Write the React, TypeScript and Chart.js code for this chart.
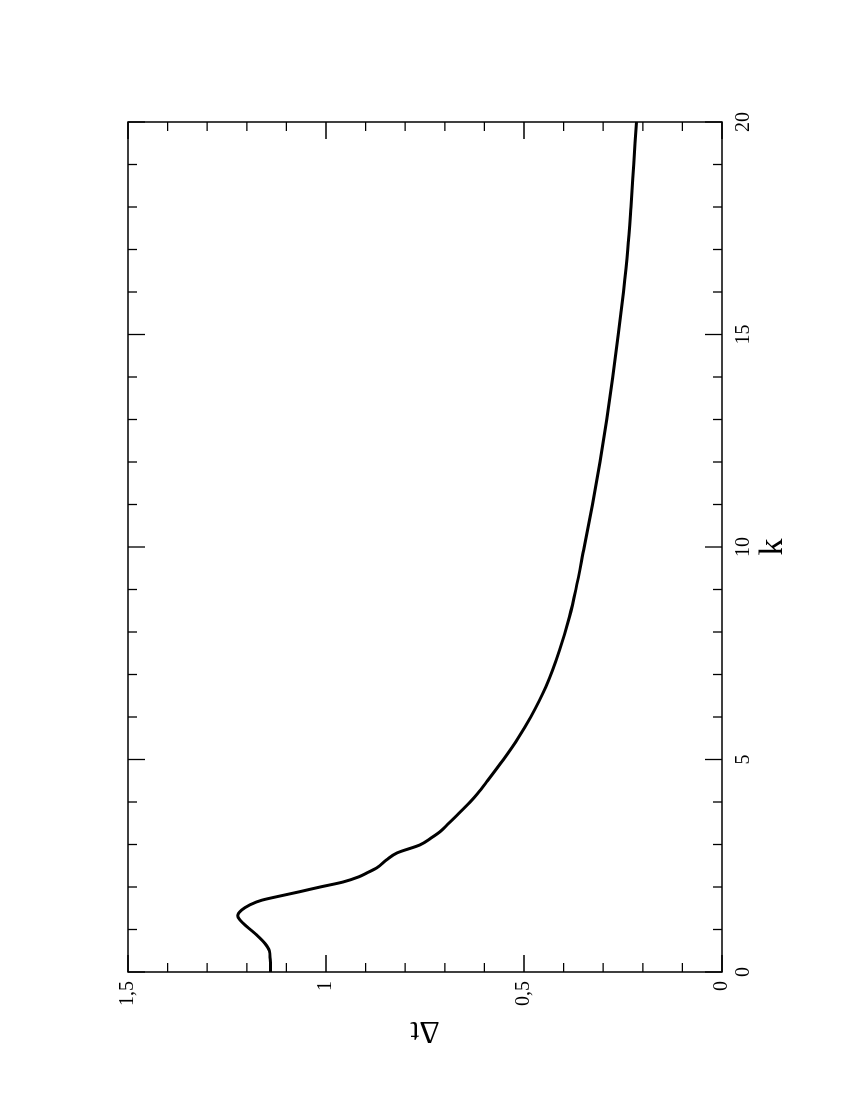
import React, { useEffect, useRef } from "react";
import { Chart, registerables } from "chart.js";

Chart.register(...registerables);

// Data (k, Δt)
const K_VALUES = [
  0, 0.3, 0.5, 0.67, 0.87, 1.07, 1.22, 1.32, 1.46, 1.58, 1.69, 1.77, 1.89, 2.0,
  2.12, 2.24, 2.33, 2.45, 2.64, 2.8, 2.99, 3.15, 3.3, 3.5, 3.7, 4.0, 4.2, 4.5,
  5.0, 5.5, 6.0, 6.71, 7.58, 8.36, 9.0, 10.0, 11.0, 12.0, 13.0, 14.0, 15.0,
  16.0, 17.0, 18.0, 19.0, 20.0,
];
const DT_VALUES = [
  1.14, 1.141, 1.143, 1.154, 1.175, 1.2, 1.217, 1.223, 1.213, 1.192, 1.162,
  1.125, 1.066, 1.015, 0.956, 0.917, 0.897, 0.872, 0.847, 0.821, 0.763, 0.735,
  0.712, 0.69, 0.668, 0.636, 0.617, 0.592, 0.552, 0.515, 0.483, 0.445, 0.41,
  0.385, 0.369, 0.348, 0.327, 0.308, 0.291, 0.276, 0.262, 0.249, 0.238, 0.23,
  0.223, 0.216,
];

const K_MAJOR_TICKS = [0, 5, 10, 15, 20];
const K_TICK_LABELS = ["0", "5", "10", "15", "20"];
const K_MINOR_TICKS = [1, 2, 3, 4, 6, 7, 8, 9, 11, 12, 13, 14, 16, 17, 18, 19];
const DT_MAJOR_TICKS = [0, 0.5, 1, 1.5];
const DT_TICK_LABELS = ["0", "0,5", "1", "1,5"];
const DT_MINOR_TICKS = [0.1, 0.2, 0.3, 0.4, 0.6, 0.7, 0.8, 0.9, 1.1, 1.2, 1.3, 1.4];

const X_TITLE = "k";
const Y_TITLE = "Δt";

const FONT = "'Liberation Serif', 'DejaVu Serif', serif";

const framePlugin = {
  id: "framePlugin",
  afterDraw(chart: any) {
    const ctx = chart.ctx;
    const xs = chart.scales.x;
    const ys = chart.scales.y;
    const a = chart.chartArea;
    ctx.save();
    ctx.strokeStyle = "#000";
    ctx.fillStyle = "#000";
    ctx.lineWidth = 1.5;
    ctx.strokeRect(a.left, a.top, a.right - a.left, a.bottom - a.top);

    ctx.lineWidth = 1.3;
    const vTick = (x: number, len: number) => {
      ctx.beginPath();
      ctx.moveTo(x, a.bottom);
      ctx.lineTo(x, a.bottom - len);
      ctx.moveTo(x, a.top);
      ctx.lineTo(x, a.top + len);
      ctx.stroke();
    };
    const hTick = (y: number, len: number) => {
      ctx.beginPath();
      ctx.moveTo(a.left, y);
      ctx.lineTo(a.left + len, y);
      ctx.moveTo(a.right, y);
      ctx.lineTo(a.right - len, y);
      ctx.stroke();
    };
    K_MINOR_TICKS.forEach((v) => vTick(xs.getPixelForValue(v), 9));
    K_MAJOR_TICKS.forEach((v) => vTick(xs.getPixelForValue(v), 17));
    DT_MINOR_TICKS.forEach((v) => hTick(ys.getPixelForValue(v), 9));
    DT_MAJOR_TICKS.forEach((v) => hTick(ys.getPixelForValue(v), 17));

    // tick labels
    ctx.font = `20px ${FONT}`;
    ctx.textAlign = "center";
    ctx.textBaseline = "alphabetic";
    K_MAJOR_TICKS.forEach((v, i) => {
      ctx.fillText(K_TICK_LABELS[i], xs.getPixelForValue(v), a.bottom + 26.5);
    });
    ctx.textAlign = "right";
    ctx.textBaseline = "middle";
    DT_MAJOR_TICKS.forEach((v, i) => {
      ctx.fillText(DT_TICK_LABELS[i], a.left - 9, ys.getPixelForValue(v));
    });

    // axis titles
    ctx.font = `34px ${FONT}`;
    ctx.textAlign = "center";
    ctx.textBaseline = "alphabetic";
    ctx.fillText(X_TITLE, (a.left + a.right) / 2, a.bottom + 60);

    ctx.font = `32px ${FONT}`;
    ctx.translate(a.left - 50, (a.top + a.bottom) / 2);
    ctx.rotate(-Math.PI / 2);
    ctx.fillText(Y_TITLE, 0, 0);
    ctx.restore();
  },
};

export default function App() {
  const canvasRef = useRef<HTMLCanvasElement | null>(null);

  useEffect(() => {
    if (!canvasRef.current) return;
    const data = K_VALUES.map((k, i) => ({ x: k, y: DT_VALUES[i] }));
    const chart = new Chart(canvasRef.current, {
      type: "line",
      data: {
        datasets: [
          {
            data,
            borderColor: "#000",
            borderWidth: 3,
            pointRadius: 0,
            cubicInterpolationMode: "monotone",
            fill: false,
          },
        ],
      },
      options: {
        animation: false,
        responsive: false,
        maintainAspectRatio: false,
        devicePixelRatio: 1,
        layout: { padding: { left: 128, right: 122, top: 128, bottom: 128 } },
        plugins: { legend: { display: false }, tooltip: { enabled: false } },
        scales: {
          x: { type: "linear", min: 0, max: 20, display: false },
          y: { type: "linear", min: 0, max: 1.5, display: false },
        },
      },
      plugins: [framePlugin],
    } as any);
    return () => chart.destroy();
  }, []);

  return (
    <div
      style={{
        position: "absolute",
        left: 0,
        top: 0,
        width: 850,
        height: 1100,
        overflow: "hidden",
        background: "#fff",
      }}
    >
      <div
        style={{
          position: "absolute",
          left: -125,
          top: 125,
          width: 1100,
          height: 850,
          transform: "rotate(-90deg)",
          transformOrigin: "50% 50%",
        }}
      >
        <canvas
          ref={canvasRef}
          width={1100}
          height={850}
          style={{ width: 1100, height: 850, display: "block" }}
        />
      </div>
    </div>
  );
}
